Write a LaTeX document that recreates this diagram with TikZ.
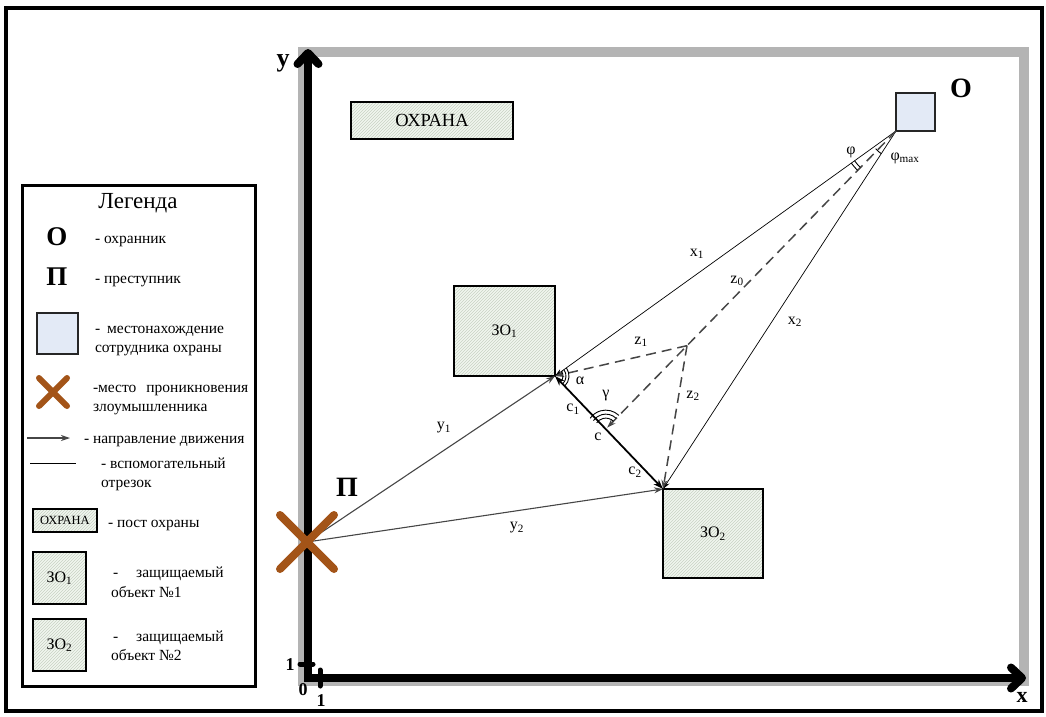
\documentclass[tikz,border=0pt]{standalone}
\usepackage{fontspec}
\setmainfont{Liberation Serif}
\usetikzlibrary{arrows.meta,patterns,calc}

\definecolor{guardfill}{RGB}{227,234,246}
\definecolor{hatchbase}{RGB}{241,246,239}
\definecolor{hatchline}{RGB}{200,210,196}
\definecolor{entry}{RGB}{163,84,24}
\definecolor{framegray}{RGB}{180,180,180}
\definecolor{movegray}{RGB}{70,70,70}

\begin{document}
\begin{tikzpicture}[x=1pt,y=1pt,
  every node/.style={inner sep=0pt, outer sep=0pt},
  zone/.style={draw=black, line width=2pt, preaction={fill=hatchbase},
    pattern=north east lines, pattern color=hatchline},
  postbox/.style={draw=black, line width=1.6pt, preaction={fill=hatchbase},
    pattern=north east lines, pattern color=hatchline},
  guardbox/.style={draw=black!85, line width=1.8pt, fill=guardfill},
  movearrow/.style={draw=movegray, line width=1.1pt, -{Stealth[length=9pt,width=6pt]}},
  helper/.style={draw=black, line width=0.7pt, -{Stealth[length=8pt,width=5pt]}},
  dashline/.style={draw=movegray, line width=1.5pt, dash pattern=on 10pt off 6pt,
    -{Stealth[length=9pt,width=6pt]}},
  lbl/.style={font=\fontsize{16}{18}\selectfont},
  leg/.style={anchor=base west, font=\fontsize{15.5}{18}\selectfont},
  big/.style={font=\fontsize{27}{30}\selectfont\bfseries},
  axisline/.style={line width=8pt, line join=miter,
    {Straight Barb[length=11pt,width=21pt,round]}-{Straight Barb[length=11pt,width=21pt,round]}},
  cross/.style={draw=entry, line width=8pt, line cap=round},
  anglemark/.style={line width=0.9pt}
]
\useasboundingbox (0,0) rectangle (1046,-716);

% outer frame
\draw[line width=4pt] (6,-7.5) rectangle (1042,-711);

% gray border of the guarded territory
\draw[framegray, line width=10pt] (303,-52) rectangle (1024,-681);

% ---------------- legend ----------------
\draw[line width=3pt, fill=white] (22.5,-185.5) rectangle (255.5,-686.5);
\node[font=\fontsize{23}{25}\selectfont] (legtitle) at (138,-203) {Легенда};

\node[big] (legO) at (57,-237) {О};
\node[leg] (legOtxt) at (95,-243) {- охранник};

\node[big] (legP) at (57,-277) {П};
\node[leg] (legPtxt) at (95,-283) {- преступник};

\node[guardbox, minimum width=41pt, minimum height=41pt] (legguard) at (57.5,-333.5) {};
\node[leg] (legguardA) at (95,-333) {-\hspace{7pt}местонахождение};
\node[leg] (legguardB) at (95,-352) {сотрудника охраны};

\coordinate (legX) at (53,-392);
\draw[cross, line width=6pt] ($(legX)+(-14,14)$) -- ($(legX)+(14,-14)$);
\draw[cross, line width=6pt] ($(legX)+(-14,-14)$) -- ($(legX)+(14,14)$);
\node[leg] (legXA) at (93,-392) {-место\hspace{10pt}проникновения};
\node[leg] (legXB) at (93,-411) {злоумышленника};

\coordinate (legArrA) at (27,-438);
\coordinate (legArrB) at (70,-438);
\draw[movearrow] (legArrA) -- (legArrB);
\node[leg] (legArrtxt) at (84,-443) {- направление движения};

\coordinate (legLineA) at (30,-463);
\coordinate (legLineB) at (76,-463);
\draw[line width=0.7pt] (legLineA) -- (legLineB);
\node[leg] (legLineTA) at (101,-468) {- вспомогательный};
\node[leg] (legLineTB) at (101,-487) {отрезок};

\node[postbox, minimum width=64pt, minimum height=23pt,
  font=\fontsize{12.5}{14}\selectfont] (legpost) at (65,-520.5) {ОХРАНА};
\node[leg] (legposttxt) at (108,-527) {- пост охраны};

\node[zone, minimum width=53pt, minimum height=52pt,
  font=\fontsize{16}{18}\selectfont] (legzo1) at (59.5,-578) {ЗО\textsubscript{1}};
\node[leg] (legzo1A) at (113,-577) {-\hspace{18pt}защищаемый};
\node[leg] (legzo1B) at (111,-597) {объект №1};

\node[zone, minimum width=53pt, minimum height=52pt,
  font=\fontsize{16}{18}\selectfont] (legzo2) at (59.5,-645) {ЗО\textsubscript{2}};
\node[leg] (legzo2A) at (113,-641) {-\hspace{18pt}защищаемый};
\node[leg] (legzo2B) at (111,-660) {объект №2};

% ---------------- axes ----------------
\draw[axisline] (308,-49) -- (308,-678) -- (1026,-678);
\draw[line width=5pt, line cap=round] (300,-664) -- (313,-664);
\draw[line width=5pt, line cap=round] (320,-670) -- (320,-686);
\node[font=\fontsize{26}{28}\selectfont\bfseries] (ylab) at (283,-63) {y};
\node[font=\fontsize{22}{24}\selectfont\bfseries] (xlab) at (1022,-697) {x};
\node[font=\fontsize{18}{20}\selectfont\bfseries] (one_y) at (290,-665) {1};
\node[font=\fontsize{18}{20}\selectfont\bfseries] (zero) at (303,-690) {0};
\node[font=\fontsize{18}{20}\selectfont\bfseries] (one_x) at (321,-701) {1};

% ---------------- territory ----------------
\node[postbox, minimum width=162pt, minimum height=37pt,
  font=\fontsize{18.5}{20}\selectfont] (post) at (432,-120.5) {ОХРАНА};

\node[zone, minimum width=101pt, minimum height=90pt,
  font=\fontsize{16}{18}\selectfont] (zo1) at (504.5,-331) {ЗО\textsubscript{1}};
\node[zone, minimum width=100pt, minimum height=89pt,
  font=\fontsize{16}{18}\selectfont] (zo2) at (713,-533.5) {ЗО\textsubscript{2}};

\node[guardbox, minimum width=39pt, minimum height=38pt] (guard) at (915.5,-112) {};
\node[font=\fontsize{28}{30}\selectfont\bfseries] (guardlab) at (961,-88) {О};

% intruder entry point
\coordinate (P) at (307,-542);
\node[font=\fontsize{28}{30}\selectfont\bfseries] (Plab) at (347,-487) {П};

% key points
\coordinate (A) at (zo1.south east);
\coordinate (B) at (zo2.north west);
\coordinate (Og) at (guard.south west);
\coordinate (G) at ($(A)!0.47!(B)$);
\coordinate (M) at ($(Og)!0.72!(G)$);

% guard sight lines
\draw[helper] (Og) -- (A);
\draw[helper] (Og) -- (B);

% intruder movement
\draw[movearrow] (P) -- (A);
\draw[movearrow] (P) -- (B);

% dashed constructions
\draw[dashline, shorten >=2pt] (Og) -- (G);
\draw[dashline] (M) -- (A);
\draw[dashline] (M) -- (B);

% segment between the objects
\draw[line width=1.8pt, {Stealth[length=10pt,width=7pt]}-{Stealth[length=10pt,width=7pt]}] (A) -- (B);

% entry cross
\draw[cross] ($(P)+(-27,27)$) -- ($(P)+(27,-27)$);
\draw[cross] ($(P)+(-27,-27)$) -- ($(P)+(27,27)$);

% angle marks
\foreach \r in {8,11,14}
  \draw[anglemark] ([shift={(-46:\r)}]A) arc[start angle=-46, end angle=36, radius=\r];
\foreach \r in {11,15,19}
  \draw[anglemark] ([shift={(46:\r)}]G) arc[start angle=46, end angle=145, radius=\r];
\foreach \r in {51,55}
  \draw[anglemark] ([shift={(215.7:\r)}]Og) arc[start angle=215.7, end angle=225.6, radius=\r];
\draw[anglemark] ([shift={(221:27)}]Og) arc[start angle=221, end angle=237, radius=27];

% labels
\node[lbl] (ly1) at (444,-428) {y\textsubscript{1}};
\node[lbl] (ly2) at (517,-528) {y\textsubscript{2}};
\node[lbl] (lx1) at (697,-254) {x\textsubscript{1}};
\node[lbl] (lx2) at (795,-322) {x\textsubscript{2}};
\node[lbl] (lz0) at (737,-281) {z\textsubscript{0}};
\node[lbl] (lz1) at (641,-342) {z\textsubscript{1}};
\node[lbl] (lz2) at (693,-396) {z\textsubscript{2}};
\node[lbl] (lc1) at (573,-409) {c\textsubscript{1}};
\node[lbl] (lc) at (598,-437) {c};
\node[lbl] (lc2) at (635,-472) {c\textsubscript{2}};
\node[lbl] (lalpha) at (580,-381) {α};
\node[lbl] (lgamma) at (606,-396) {γ};
\node[lbl] (lphi) at (851,-152) {φ};
\node[lbl] (lphimax) at (905,-158) {φ\textsubscript{max}};
\end{tikzpicture}
\end{document}
